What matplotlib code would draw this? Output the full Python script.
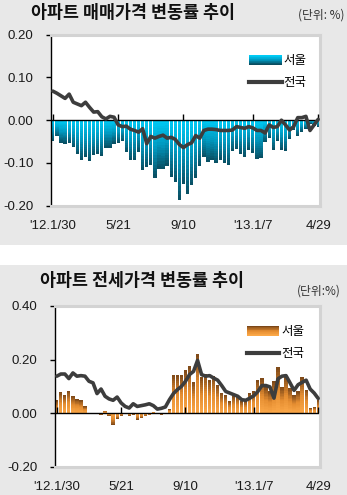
import numpy as np
import matplotlib
matplotlib.use("Agg")
import matplotlib.pyplot as plt
from matplotlib.patches import Rectangle
from matplotlib.legend_handler import HandlerBase
from matplotlib.lines import Line2D
from matplotlib.colors import LinearSegmentedColormap

plt.rcParams['font.family'] = ['Liberation Sans', 'Noto Sans CJK KR']

# ---------------- data ----------------
tick_idx = [0, 16, 32, 49, 65]
tick_labels = ["'12.1/30", "5/21", "9/10", "'13.1/7", "4/29"]

seoul_sale = [-0.049, -0.038, -0.053, -0.055, -0.053, -0.063, -0.080, -0.093, -0.086, -0.096,
              -0.082, -0.080, -0.083, -0.064, -0.064, -0.055, -0.053, -0.049, -0.074, -0.093,
              -0.093, -0.074, -0.117, -0.110, -0.105, -0.134, -0.114, -0.115, -0.106,
              -0.133, -0.144, -0.186, -0.149, -0.172, -0.152, -0.134, -0.108, -0.087, -0.098,
              -0.093, -0.100, -0.092, -0.101, -0.105, -0.072, -0.068, -0.078, -0.085, -0.070,
              -0.077, -0.091, -0.089, -0.051, -0.042, -0.070, -0.049, -0.070, -0.072, -0.044,
              -0.023, -0.036, -0.027, -0.020, -0.008, -0.013, -0.015]
nat_sale = [0.068, 0.063, 0.057, 0.051, 0.061, 0.042, 0.038, 0.034, 0.042, 0.030,
            0.019, 0.020, 0.008, 0.003, 0.009, 0.007, -0.011, -0.015, -0.014, -0.021,
            -0.024, -0.028, -0.020, -0.055, -0.038, -0.042, -0.038, -0.035, -0.042, -0.040,
            -0.045, -0.057, -0.064, -0.057, -0.053, -0.036, -0.042, -0.024, -0.021, -0.021,
            -0.022, -0.024, -0.024, -0.024, -0.023, -0.015, -0.017, -0.019, -0.015, -0.018,
            -0.024, -0.024, -0.030, -0.011, -0.017, -0.015, 0.000, -0.011, -0.023, -0.015,
            0.006, 0.006, 0.009, -0.024, -0.011, 0.002]

seoul_jeonse = [0.048, 0.078, 0.069, 0.084, 0.063, 0.053, 0.048, 0.025,
                -0.002, -0.003, -0.001, -0.006, 0.009, -0.010, -0.044, -0.022, -0.010, -0.003,
                -0.010, -0.006, -0.025, -0.019, -0.012, -0.008, 0.005, -0.005, -0.006, -0.003, 0.015,
                0.144, 0.144, 0.144, 0.160, 0.175, 0.115, 0.222,
                0.135, 0.147, 0.125, 0.140, 0.106, 0.075, 0.069, 0.044, 0.063, 0.063,
                0.044, 0.044, 0.075, 0.081, 0.125, 0.131, 0.098, 0.081, 0.119, 0.172,
                0.098, 0.138, 0.094, 0.069, 0.081, 0.135, 0.088, 0.019, 0.023, 0.048]
nat_jeonse = [0.138, 0.146, 0.146, 0.129, 0.150, 0.138, 0.140, 0.138, 0.119, 0.113,
              0.073, 0.090, 0.063, 0.053, 0.048, 0.060, 0.038, 0.025, 0.019, 0.035,
              0.025, 0.028, 0.031, 0.035, 0.028, 0.015, 0.018, 0.023, 0.050, 0.073,
              0.088, 0.100, 0.119, 0.144, 0.156, 0.197, 0.144, 0.138, 0.140, 0.131,
              0.123, 0.103, 0.081, 0.075, 0.069, 0.063, 0.050, 0.048, 0.056, 0.065,
              0.081, 0.103, 0.103, 0.098, 0.056, 0.128, 0.138, 0.140, 0.113, 0.085,
              0.106, 0.115, 0.123, 0.090, 0.075, 0.055]

title1 = "아파트 매매가격 변동률 추이"
title2 = "아파트 전세가격 변동률 추이"
unit1 = "(단위: %)"
unit2 = "(단위:%)"
series_labels = ["서울", "전국"]

# ---------------- styles ----------------
cyan_cmap = LinearSegmentedColormap.from_list("cy", ["#00cdf7", "#0098bf", "#0a4d60"])
orange_cmap = LinearSegmentedColormap.from_list("or", ["#fba848", "#e48c30", "#7b4718"])
LINE_C = "#3d3d3d"
BG = "#e8e8e8"
FRAME = "#d3d3d3"

W, H = 347, 495
fig = plt.figure(figsize=(W / 100, H / 100), dpi=100)
fig.patch.set_facecolor("white")
fig.patches.append(Rectangle((0, 1 - 245 / H), 1, 245 / H, transform=fig.transFigure,
                             facecolor=BG, edgecolor="none", zorder=-10))
fig.patches.append(Rectangle((0, 0), 1, 230 / H, transform=fig.transFigure,
                             facecolor=BG, edgecolor="none", zorder=-10))


class GradHandler(HandlerBase):
    def __init__(self, cmap, dark_top):
        super().__init__()
        self.cmap = cmap
        self.dark_top = dark_top

    def create_artists(self, legend, orig_handle, xdescent, ydescent, width, height, fontsize, trans):
        n = 14
        arts = []
        for k in range(n):
            f = k / (n - 1)
            frac = f if self.dark_top else 1 - f
            r = Rectangle((-xdescent, -ydescent + height * k / n), width, height / n * 1.05,
                          facecolor=self.cmap(frac), edgecolor="none", transform=trans)
            arts.append(r)
        return arts


def grad_bars(ax, vals, cmap, nseg=18):
    vals = np.asarray(vals)
    x = np.arange(len(vals))
    for k in range(nseg):
        ax.bar(x, vals / nseg * 1.02, bottom=vals * k / nseg, width=0.8,
               color=cmap((k + 0.5) / nseg), linewidth=0, zorder=2)


def panel(rect, seoul, nat, cmap, ylim, yticks, dark_top, leg_anchor, label_pad):
    ax = fig.add_axes(rect)
    ax.set_facecolor("white")
    n = len(seoul)
    grad_bars(ax, seoul, cmap)
    ax.axhline(0, color="black", lw=1.0, zorder=2.5)
    ax.plot(np.array(tick_idx), np.zeros(len(tick_idx)), linestyle="none", marker=2,
            markersize=4, color="black", markeredgewidth=1.0, zorder=2.6)
    ax.plot(np.arange(n), nat, color=LINE_C, lw=2.6, solid_joinstyle="round",
            solid_capstyle="round", zorder=3)
    ax.set_xlim(-0.45, n - 0.55)
    ax.set_ylim(*ylim)
    ax.set_yticks(yticks)
    ax.set_yticklabels([f"{t:.2f}" for t in yticks])
    ax.set_xticks(tick_idx)
    ax.set_xticklabels(tick_labels)
    ax.tick_params(axis="x", length=0, pad=label_pad, labelsize=9.5, labelcolor="#1a1a1a")
    ax.tick_params(axis="y", length=3.5, width=1, pad=9, labelsize=9.5, labelcolor="#1a1a1a",
                   direction="out")
    ax.spines["left"].set_color("black")
    ax.spines["left"].set_linewidth(1.0)
    for s in ["top", "right", "bottom"]:
        ax.spines[s].set_color(FRAME)
        ax.spines[s].set_linewidth(2.2)
    h_bar = Rectangle((0, 0), 1, 1)
    h_line = Line2D([0], [0], color=LINE_C, lw=3)
    ax.legend([h_bar, h_line], series_labels, loc="upper right", bbox_to_anchor=leg_anchor,
              frameon=False, fontsize=9, handlelength=2.6, handleheight=0.8,
              handletextpad=0.15, labelspacing=0.8, borderaxespad=0, borderpad=0,
              handler_map={Rectangle: GradHandler(cmap, dark_top)})
    return ax


# top panel: left 51, right 320, top 34.7, bottom 205.7 (px)
panel([51 / W, 1 - 205.7 / H, (320 - 51) / W, (205.7 - 34.7) / H],
      seoul_sale, nat_sale, cyan_cmap, (-0.2, 0.2), [-0.2, -0.1, 0.0, 0.1, 0.2],
      False, (0.95, 0.88), 10)
# bottom panel: left 55, right 320, top 306, bottom 466.7 (px)
panel([55 / W, 1 - 466.7 / H, (320 - 55) / W, (466.7 - 306) / H],
      seoul_jeonse, nat_jeonse, orange_cmap, (-0.2, 0.4), [-0.2, 0.0, 0.2, 0.4],
      True, (0.94, 0.875), 10)

tfam = ["Noto Sans CJK KR", "DejaVu Sans"]
fig.text(31 / W, 1 - 13 / H, title1, ha="left", va="center", fontsize=12.5,
         fontweight="bold", family=tfam, color="#111111")
fig.text(40 / W, 1 - 280.5 / H, title2, ha="left", va="center", fontsize=12.5,
         fontweight="bold", family=tfam, color="#111111")
fig.text(344 / W, 1 - 15 / H, unit1, ha="right", va="center", fontsize=8.5,
         family=tfam, color="#333333")
fig.text(341 / W, 1 - 291 / H, unit2, ha="right", va="center", fontsize=8.5,
         family=tfam, color="#333333")

fig.savefig("out.png", dpi=100, facecolor=fig.get_facecolor())
